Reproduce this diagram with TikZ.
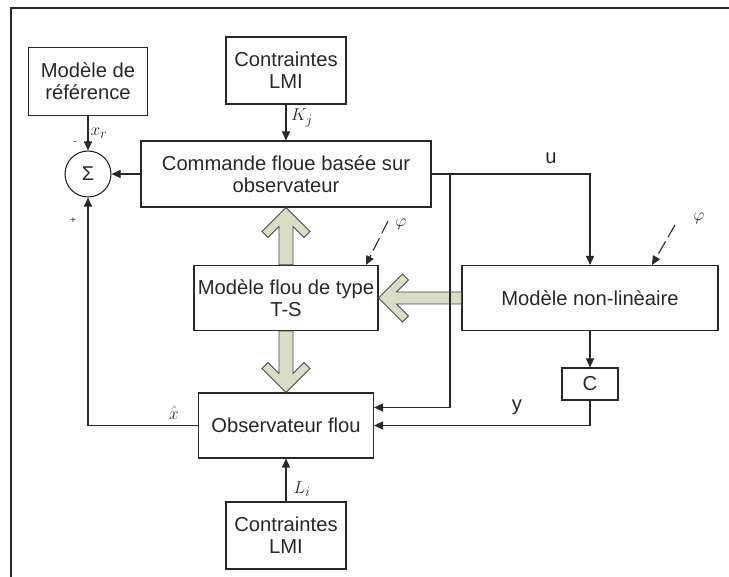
\documentclass[tikz,border=0pt]{standalone}
\usepackage{fontspec}
\setmainfont{Liberation Sans}
\usetikzlibrary{arrows.meta,calc}
\definecolor{gfill}{RGB}{214,222,198}
\definecolor{lncol}{RGB}{40,40,40}
\begin{document}
\begin{tikzpicture}[x=1pt,y=-1pt,
  box/.style={draw=lncol,line width=1.1pt,align=center,inner sep=0pt,text=lncol,font=\fontsize{20.2}{22}\selectfont},
  arr/.style={draw=lncol,line width=1.1pt,-{Triangle[length=9pt,width=8pt]}},
  wire/.style={draw=lncol,line width=1.1pt},
  garrow/.style={draw=lncol!85,line width=0.9pt,fill=gfill,line join=miter},
  lab/.style={inner sep=0pt,text=lncol,font=\fontsize{19}{19}\selectfont},
  txt/.style={inner sep=0pt,text=lncol,font=\fontsize{20.2}{22}\selectfont},
  sgn/.style={inner sep=0pt,text=lncol,font=\fontsize{10}{10}\selectfont},
  phiarr/.style={draw=lncol,line width=1.1pt,dash pattern=on 14pt off 5pt,-{Triangle[length=9pt,width=8pt]}}
]
\useasboundingbox (0,0) rectangle (729,577);
% frame
\draw[line width=2pt,lncol] (729,8) -- (11,8) -- (11,577);

% blocks
\node[box,minimum width=119pt,minimum height=68pt] (ref) at (88,81.5) {Modèle de\\référence};
\node[draw=lncol,line width=1.1pt,circle,minimum size=46pt,inner sep=0pt,text=lncol,font=\fontsize{20}{20}\selectfont] (sig) at (88,174) {Σ};
\node[box,minimum width=120pt,minimum height=67pt] (lmi1) at (286,70.5) {Contraintes\\LMI};
\node[box,minimum width=290pt,minimum height=66pt] (cmd) at (286,174) {Commande floue basée sur\\observateur};
\node[box,minimum width=184pt,minimum height=65pt] (ts) at (286,298) {Modèle flou de type\\T-S};
\node[box,minimum width=256pt,minimum height=65pt] (nl) at (590,298) {Modèle non-linèaire};
\node[box,minimum width=56pt,minimum height=32pt] (C) at (590,384) {C};
\node[box,minimum width=175pt,minimum height=65pt] (obs) at (286,425.5) {Observateur flou};
\node[box,minimum width=120pt,minimum height=67pt] (lmi2) at (286,535.5) {Contraintes\\LMI};

% green hollow arrows
\draw[garrow] (cmd.south) -- ++(-24,24) -- ++(6,6) -- ++(11,-11)
  -- ($(ts.north)+(-7,0)$) -- ($(ts.north)+(7,0)$) -- ($(cmd.south)+(7,19)$)
  -- ++(11,11) -- ++(6,-6) -- cycle;
\draw[garrow] (obs.north) -- ++(-24,-24) -- ++(6,-6) -- ++(11,11)
  -- ($(ts.south)+(-7,0)$) -- ($(ts.south)+(7,0)$) -- ($(obs.north)+(7,-19)$)
  -- ++(11,-11) -- ++(6,6) -- cycle;
\draw[garrow] (ts.east) -- ++(24,-24) -- ++(6,6) -- ++(-12,12)
  -- ($(nl.west)+(0,-6)$) -- ($(nl.west)+(0,6)$) -- ($(ts.east)+(18,6)$)
  -- ++(12,12) -- ++(-6,6) -- cycle;

% connectors
\draw[arr] (ref.south) -- (sig.north);
\draw[arr] (lmi1.south) -- (cmd.north);
\draw[arr] (cmd.west) -- (sig.east);
\draw[arr] (obs.west) -| (sig.south);
\draw[arr] (cmd.east) -| (nl.north);
\coordinate (br) at (450,174);
\draw[arr] (br) |- ([yshift=18pt]obs.east);
\draw[arr] (nl.south) -- (C.north);
\draw[arr] (C.south) |- (obs.east);
\draw[arr] (lmi2.north) -- (obs.south);

% phi disturbance arrows
\coordinate (p1) at (388,221);
\coordinate (p2) at (675,225);
\draw[phiarr] (p1) -- ([xshift=80pt]ts.north);
\draw[phiarr] (p2) -- ([xshift=62pt]nl.north);

% labels
\node[lab] (lxr) at (99,133) {$x_r$};
\node[lab] (lkj) at (302,118) {$K_j$};
\node[lab] (lxh) at (174,413) {$\hat{x}$};
\node[lab] (lli) at (302,489) {$L_i$};
\node[lab] (lphi1) at (401,224) {$\varphi$};
\node[lab] (lphi2) at (699,218) {$\varphi$};
\node[txt] (lu) at (551,158) {u};
\node[txt] (ly) at (517,407) {y};
\node[sgn] (lm) at (75,143) {-};
\node[sgn] (lp) at (73,221) {+};
\end{tikzpicture}
\end{document}
